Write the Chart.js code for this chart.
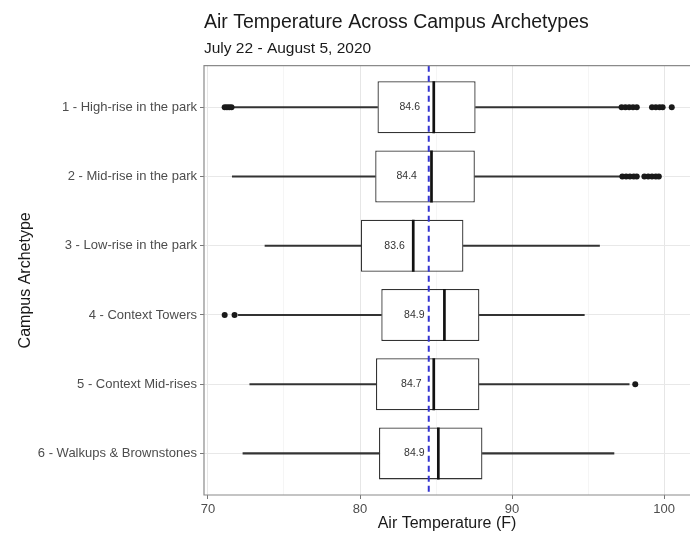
<!DOCTYPE html>
<html>
<head>
<meta charset="utf-8">
<title>Air Temperature Across Campus Archetypes</title>
<script src="https://cdn.jsdelivr.net/npm/chart.js@4.4.0/dist/chart.umd.min.js"></script>
<style>
  html, body { margin: 0; padding: 0; background: #fff; }
  #wrap { width: 690px; height: 535px; }
</style>
</head>
<body>
<div id="wrap"><canvas id="chart" width="690" height="535"></canvas></div>
<script>
// Data
const categories = [
  '1 - High-rise in the park',
  '2 - Mid-rise in the park',
  '3 - Low-rise in the park',
  '4 - Context Towers',
  '5 - Context Mid-rises',
  '6 - Walkups & Brownstones'
];
const whiskerLow = [71.7, 71.6, 73.75, 72.0, 72.75, 72.3];
const q1 = [81.15, 81.0, 80.05, 81.4, 81.05, 81.25];
const median = [84.85, 84.7, 83.5, 85.55, 84.85, 85.15];
const q3 = [87.6, 87.55, 86.8, 87.85, 87.85, 88.05];
const whiskerHigh = [97.1, 97.1, 95.75, 94.75, 97.7, 96.7];
const means = [84.6, 84.4, 83.6, 84.9, 84.7, 84.9];
const outliers = [
  [71.1, 71.25, 71.4, 71.55, 97.2, 97.45, 97.7, 97.95, 98.2, 99.2, 99.45, 99.7, 99.9, 100.5],
  [97.25, 97.5, 97.75, 98.0, 98.2, 98.7, 98.95, 99.2, 99.45, 99.65],
  [],
  [71.1, 71.75],
  [98.1],
  []
];
const overallMean = 84.52;
const xTicks = [70, 75, 80, 85, 90, 95, 100];
const xMin = 69.74;
const xMax = 101.7;

const FONT = '"Liberation Sans", Arial, sans-serif';
const rows = categories.map((c, i) => i + 1);

const outlierPoints = outliers.flatMap((vals, i) => vals.map(v => ({ x: v, y: i + 1 })));

// mean labels, overall mean line and panel border (right side is cropped off)
const annotate = {
  id: 'annotate',
  afterDatasetsDraw(chart) {
    const { ctx, chartArea: a, scales: { x, y } } = chart;
    ctx.save();
    ctx.font = '10.5px ' + FONT;
    ctx.fillStyle = '#333';
    ctx.textAlign = 'right';
    ctx.textBaseline = 'middle';
    means.forEach((m, i) => {
      ctx.fillText(m.toFixed(1), x.getPixelForValue(m) - 10, y.getPixelForValue(i + 1));
    });

    const px = x.getPixelForValue(overallMean);
    ctx.strokeStyle = '#3434d2';
    ctx.lineWidth = 2;
    ctx.setLineDash([6, 4]);
    ctx.beginPath();
    ctx.moveTo(px, a.top);
    ctx.lineTo(px, a.bottom);
    ctx.stroke();
    ctx.setLineDash([]);

    ctx.strokeStyle = '#8a8a8a';
    ctx.lineWidth = 1.2;
    ctx.beginPath();
    ctx.moveTo(a.right, a.top);
    ctx.lineTo(a.left, a.top);
    ctx.lineTo(a.left, a.bottom);
    ctx.lineTo(a.right, a.bottom);
    ctx.stroke();
    ctx.restore();
  }
};

new Chart(document.getElementById('chart'), {
  type: 'bar',
  data: {
    datasets: [
      {
        label: 'Lower whisker',
        data: rows.map((r, i) => ({ x: [whiskerLow[i], q1[i]], y: r })),
        backgroundColor: '#333',
        barThickness: 1.5,
        order: 3
      },
      {
        label: 'Upper whisker',
        data: rows.map((r, i) => ({ x: [q3[i], whiskerHigh[i]], y: r })),
        backgroundColor: '#333',
        barThickness: 1.5,
        order: 3
      },
      {
        label: 'Box',
        data: rows.map((r, i) => ({ x: [q1[i], q3[i]], y: r })),
        backgroundColor: '#fff',
        borderColor: '#333',
        borderWidth: 1.3,
        borderSkipped: false,
        barPercentage: 0.75,
        categoryPercentage: 1,
        order: 2
      },
      {
        type: 'scatter',
        label: 'Median',
        data: rows.map((r, i) => ({ x: median[i], y: r })),
        pointStyle: 'line',
        pointRotation: 90,
        pointRadius: 26,
        pointBorderWidth: 2.7,
        pointBorderColor: '#111',
        order: 1
      },
      {
        type: 'scatter',
        label: 'Outliers',
        data: outlierPoints,
        pointRadius: 3,
        pointBackgroundColor: '#1a1a1a',
        pointBorderWidth: 0,
        order: 0
      }
    ]
  },
  options: {
    indexAxis: 'y',
    responsive: false,
    animation: false,
    datasets: { bar: { grouped: false } },
    layout: { padding: 0, autoPadding: false },
    plugins: {
      legend: { display: false },
      tooltip: { enabled: false },
      title: {
        display: true,
        text: 'Air Temperature Across Campus Archetypes',
        align: 'start',
        fullSize: false,
        color: '#1a1a1a',
        font: { family: FONT, size: 19.5, weight: 'normal' },
        padding: { top: 11, bottom: 0 }
      },
      subtitle: {
        display: true,
        text: 'July 22 - August 5, 2020',
        align: 'start',
        fullSize: false,
        color: '#1a1a1a',
        font: { family: FONT, size: 15.5, weight: 'normal' },
        padding: { top: 5, bottom: 7.7 }
      }
    },
    scales: {
      x: {
        type: 'linear',
        min: xMin,
        max: xMax,
        beginAtZero: false,
        afterBuildTicks: s => { s.ticks = xTicks.map(v => ({ value: v })); },
        afterFit: s => { s.height = 40; s.paddingLeft = 0; s.paddingRight = 0; },
        border: { display: false },
        grid: {
          color: c => (c.tick && c.tick.value % 10 === 0 ? '#e6e6e6' : '#f1f1f1'),
          lineWidth: c => (c.tick && c.tick.value % 10 === 0 ? 1 : 0.7),
          tickColor: c => (c.tick && c.tick.value % 10 === 0 ? '#777' : 'rgba(0,0,0,0)'),
          tickLength: 4
        },
        ticks: {
          autoSkip: false,
          maxRotation: 0,
          padding: 3,
          color: '#4d4d4d',
          font: { family: FONT, size: 13 },
          callback: v => (v % 10 === 0 ? String(v) : '')
        },
        title: {
          display: true,
          text: 'Air Temperature (F)',
          color: '#1a1a1a',
          font: { family: FONT, size: 16 },
          padding: { top: 0, bottom: 1.4 }
        }
      },
      y: {
        type: 'linear',
        min: 0.4,
        max: 6.6,
        reverse: true,
        offset: false,
        afterBuildTicks: s => { s.ticks = rows.map(v => ({ value: v })); },
        afterFit: s => { s.width = 204; s.paddingTop = 0; s.paddingBottom = 0; },
        border: { display: false },
        grid: {
          offset: false,
          color: '#e8e8e8',
          lineWidth: 1,
          tickColor: '#777',
          tickLength: 4
        },
        ticks: {
          autoSkip: false,
          padding: 3,
          color: '#4d4d4d',
          font: { family: FONT, size: 13 },
          callback: v => categories[v - 1]
        },
        title: {
          display: true,
          text: 'Campus Archetype',
          color: '#1a1a1a',
          font: { family: FONT, size: 16 },
          padding: { top: 16, bottom: 0 }
        }
      }
    }
  },
  plugins: [annotate]
});
</script>
</body>
</html>
